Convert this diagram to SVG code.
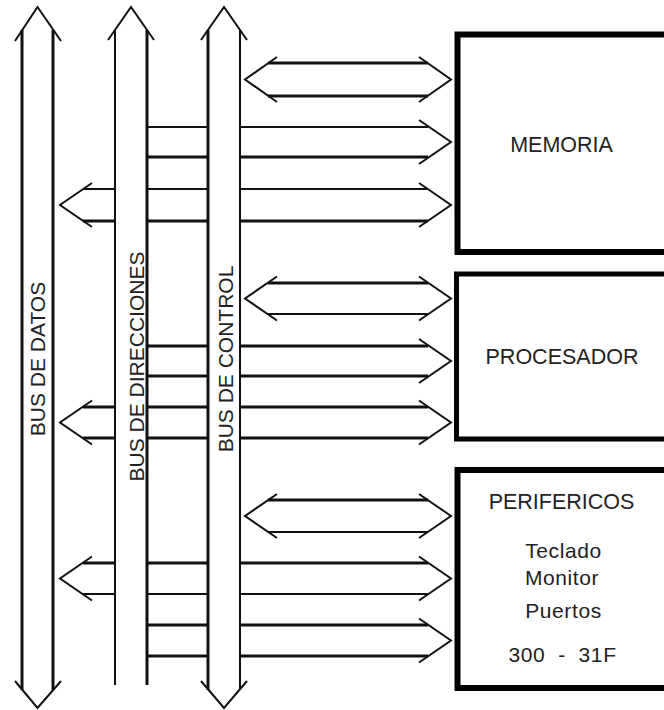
<svg xmlns="http://www.w3.org/2000/svg" width="664" height="710" viewBox="0 0 664 710">
<style>
.ln{fill:none;stroke:#111;stroke-width:3;stroke-linecap:butt}
.tn{fill:none;stroke:#111;stroke-width:2}
.hd{fill:none;stroke:#111;stroke-width:2;stroke-linejoin:miter}
.box{fill:#fff;stroke:#000}
.lbl{font-family:"Liberation Sans",Arial,sans-serif;font-size:21px;fill:#222;text-anchor:middle}
.ttl{font-family:"Liberation Sans",Arial,sans-serif;font-size:21.5px;fill:#222;text-anchor:middle}
.txt{font-family:"Liberation Sans",Arial,sans-serif;font-size:21px;fill:#222;text-anchor:middle;letter-spacing:0.6px}
</style>
<rect width="664" height="710" fill="#fff"/>

<g id="bus-datos">
<path class="ln" d="M22 30V690M53 30V690"/>
<path class="hd" d="M15 41L37.5 7L61 41M15 681L37.5 708L61 681"/>
<text class="lbl" transform="translate(44.5,359) rotate(-90)">BUS DE DATOS</text>
</g>
<g id="bus-direcciones">
<path class="tn" d="M115 30V685"/>
<path class="ln" d="M147 30V685"/>
<path class="hd" d="M108 40L131 7L154 40"/>
<text class="lbl" transform="translate(144,366.5) rotate(-90)">BUS DE DIRECCIONES</text>
</g>
<g id="bus-control">
<path class="ln" d="M208 30V690"/>
<path class="tn" d="M240 30V690"/>
<path class="hd" d="M201 40L224 7L247 40M201 681L224 708L247 681"/>
<text class="lbl" transform="translate(233,359) rotate(-90)">BUS DE CONTROL</text>
</g>

<g id="memoria">
<rect class="box" x="457.5" y="34.5" width="220" height="217.5" stroke-width="6"/>
<text class="ttl" x="561.5" y="152">MEMORIA</text>
</g>
<g id="procesador">
<rect class="box" x="456.5" y="274" width="220" height="165" stroke-width="5"/>
<text class="ttl" x="562" y="364">PROCESADOR</text>
</g>
<g id="perifericos">
<rect class="box" x="457.5" y="470" width="220" height="218" stroke-width="6"/>
<text class="ttl" x="561.5" y="509">PERIFERICOS</text>
<text class="txt" x="563.5" y="558">Teclado</text>
<text class="txt" x="562" y="585">Monitor</text>
<text class="txt" x="563.5" y="618">Puertos</text>
<text class="txt" x="562.5" y="662" xml:space="preserve">300  -  31F</text>
</g>

<g id="connectors">
<path class="ln" d="M268 63H428M268 96H428"/>
<path class="hd" d="M277 57L245 79.5L277 102M419 57L451 79.5L419 102"/>
<path class="tn" d="M147 127H208M240 127H428"/>
<path class="ln" d="M147 157H208M240 157H428"/>
<path class="hd" d="M419 120L451 142L419 164"/>
<path class="tn" d="M83 189H115M147 189H208M240 189H428"/>
<path class="ln" d="M83 221H115M147 221H208M240 221H428"/>
<path class="hd" d="M92 183L60 205L92 227M419 183L451 205L419 227"/>
<path class="ln" d="M268 283H428"/>
<path class="tn" d="M268 314H428"/>
<path class="hd" d="M277 276.5L245 298.5L277 320.5M419 276.5L451 298.5L419 320.5"/>
<path class="ln" d="M147 346H208M240 346H428M147 376H208M240 376H428"/>
<path class="hd" d="M419 339L451 361L419 383"/>
<path class="ln" d="M83 407H115M147 407H208M240 407H428M83 438H115M147 438H208M240 438H428"/>
<path class="hd" d="M92 400.5L60 422.5L92 444.5M419 400.5L451 422.5L419 444.5"/>
<path class="ln" d="M268 500H428"/>
<path class="tn" d="M268 532H428"/>
<path class="hd" d="M277 494L245 516L277 538M419 494L451 516L419 538"/>
<path class="ln" d="M83 563H115M147 563H208M240 563H428"/>
<path class="tn" d="M83 594H115M147 594H208M240 594H428"/>
<path class="hd" d="M92 556.5L60 578.5L92 600.5M419 556.5L451 578.5L419 600.5"/>
<path class="ln" d="M147 625H208M240 625H428M147 656H208M240 656H428"/>
<path class="hd" d="M419 618.5L451 640.5L419 662.5"/>
</g>
</svg>
